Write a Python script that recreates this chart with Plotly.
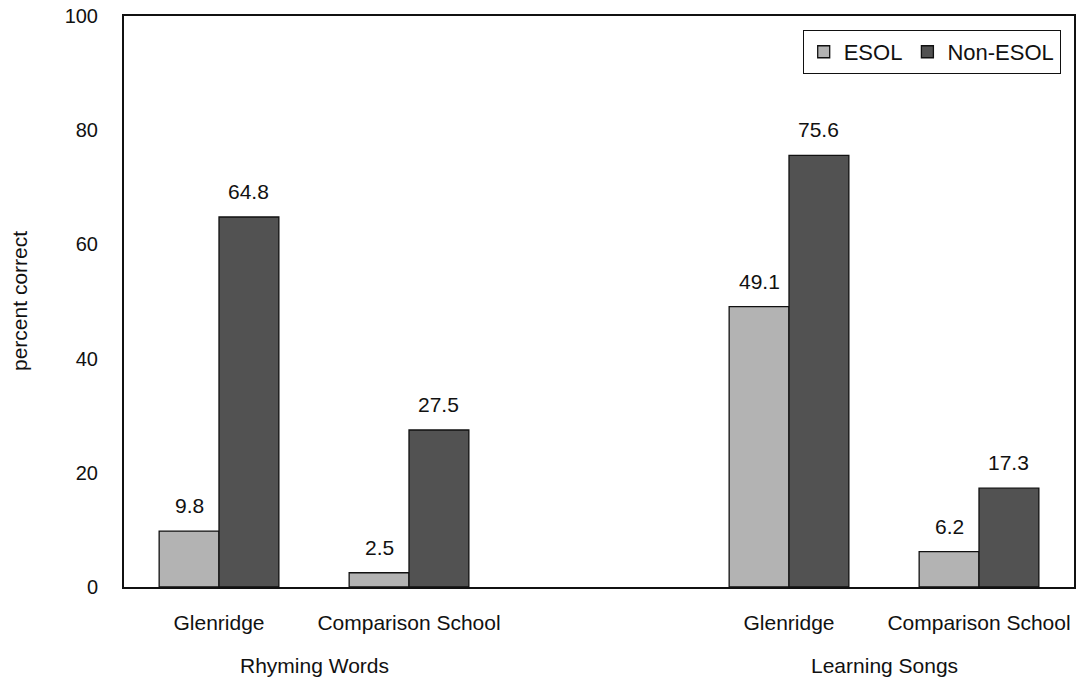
import plotly.graph_objects as go

# Category slots along the x axis (slot 2 is the empty spacer between tasks)
slots = [0, 1, 3, 4]
schools = ["Glenridge", "Comparison School", "Glenridge", "Comparison School"]
tasks = ["Rhyming Words", "Learning Songs"]
task_centers = [0.5, 3.5]

esol = [9.8, 2.5, 49.1, 6.2]
non_esol = [64.8, 27.5, 75.6, 17.3]

y_ticks = [0, 20, 40, 60, 80, 100]

FONT = "Liberation Sans, Arial, sans-serif"
INK = "#111111"
ESOL_COLOR = "#b3b3b3"
NON_COLOR = "#525252"

fig = go.Figure()
fig.add_trace(go.Bar(
    x=slots, y=esol, name="ESOL",
    marker=dict(color=ESOL_COLOR, line=dict(color=INK, width=1.3)),
))
fig.add_trace(go.Bar(
    x=slots, y=non_esol, name="Non-ESOL",
    marker=dict(color=NON_COLOR, line=dict(color=INK, width=1.3)),
))

# Value labels above each bar
annotations = []
bar_offset = 0.63 / 4
for xs, vals in ((-bar_offset, esol), (bar_offset, non_esol)):
    for s, v in zip(slots, vals):
        annotations.append(dict(
            x=s + xs, y=v, xref="x", yref="y", text=f"{v:.1f}",
            showarrow=False, yanchor="bottom", yshift=12,
            font=dict(family=FONT, size=21, color=INK),
        ))

# Task group labels under the school labels
for name, cx in zip(tasks, task_centers):
    annotations.append(dict(
        x=cx, y=0, xref="x", yref="paper", text=name,
        showarrow=False, yanchor="middle", yshift=-78,
        font=dict(family=FONT, size=21, color=INK),
    ))

# Y axis title
annotations.append(dict(
    x=-0.110, y=0.5, xref="paper", yref="paper", text="percent correct",
    showarrow=False, textangle=-90, xanchor="center", yanchor="middle",
    font=dict(family=FONT, size=21, color=INK),
))

fig.update_layout(
    width=1081, height=684,
    margin=dict(l=124, r=5, t=13, b=97),
    paper_bgcolor="white", plot_bgcolor="white",
    barmode="group", bargap=0.37, bargroupgap=0,
    font=dict(family=FONT, size=21, color=INK),
    showlegend=True,
    legend=dict(
        orientation="h", x=0.986, y=0.9756, xanchor="right", yanchor="top",
        bordercolor=INK, borderwidth=1, bgcolor="white",
        font=dict(family=FONT, size=22, color=INK),
        itemwidth=30, tracegroupgap=0,
    ),
    annotations=annotations,
)

fig.update_xaxes(
    range=[-0.5, 4.5], tickvals=slots, ticktext=schools,
    showline=True, linecolor=INK, linewidth=2, mirror=True,
    showgrid=False, zeroline=False, ticks="", ticklabelstandoff=16,
    tickfont=dict(family=FONT, size=21, color=INK),
)
fig.update_yaxes(
    range=[0, 100], tickvals=y_ticks,
    showline=True, linecolor=INK, linewidth=2, mirror=True,
    showgrid=False, zeroline=False, ticks="", ticklabelstandoff=20,
    tickfont=dict(family=FONT, size=20, color=INK),
)

fig.write_html("out.html")
